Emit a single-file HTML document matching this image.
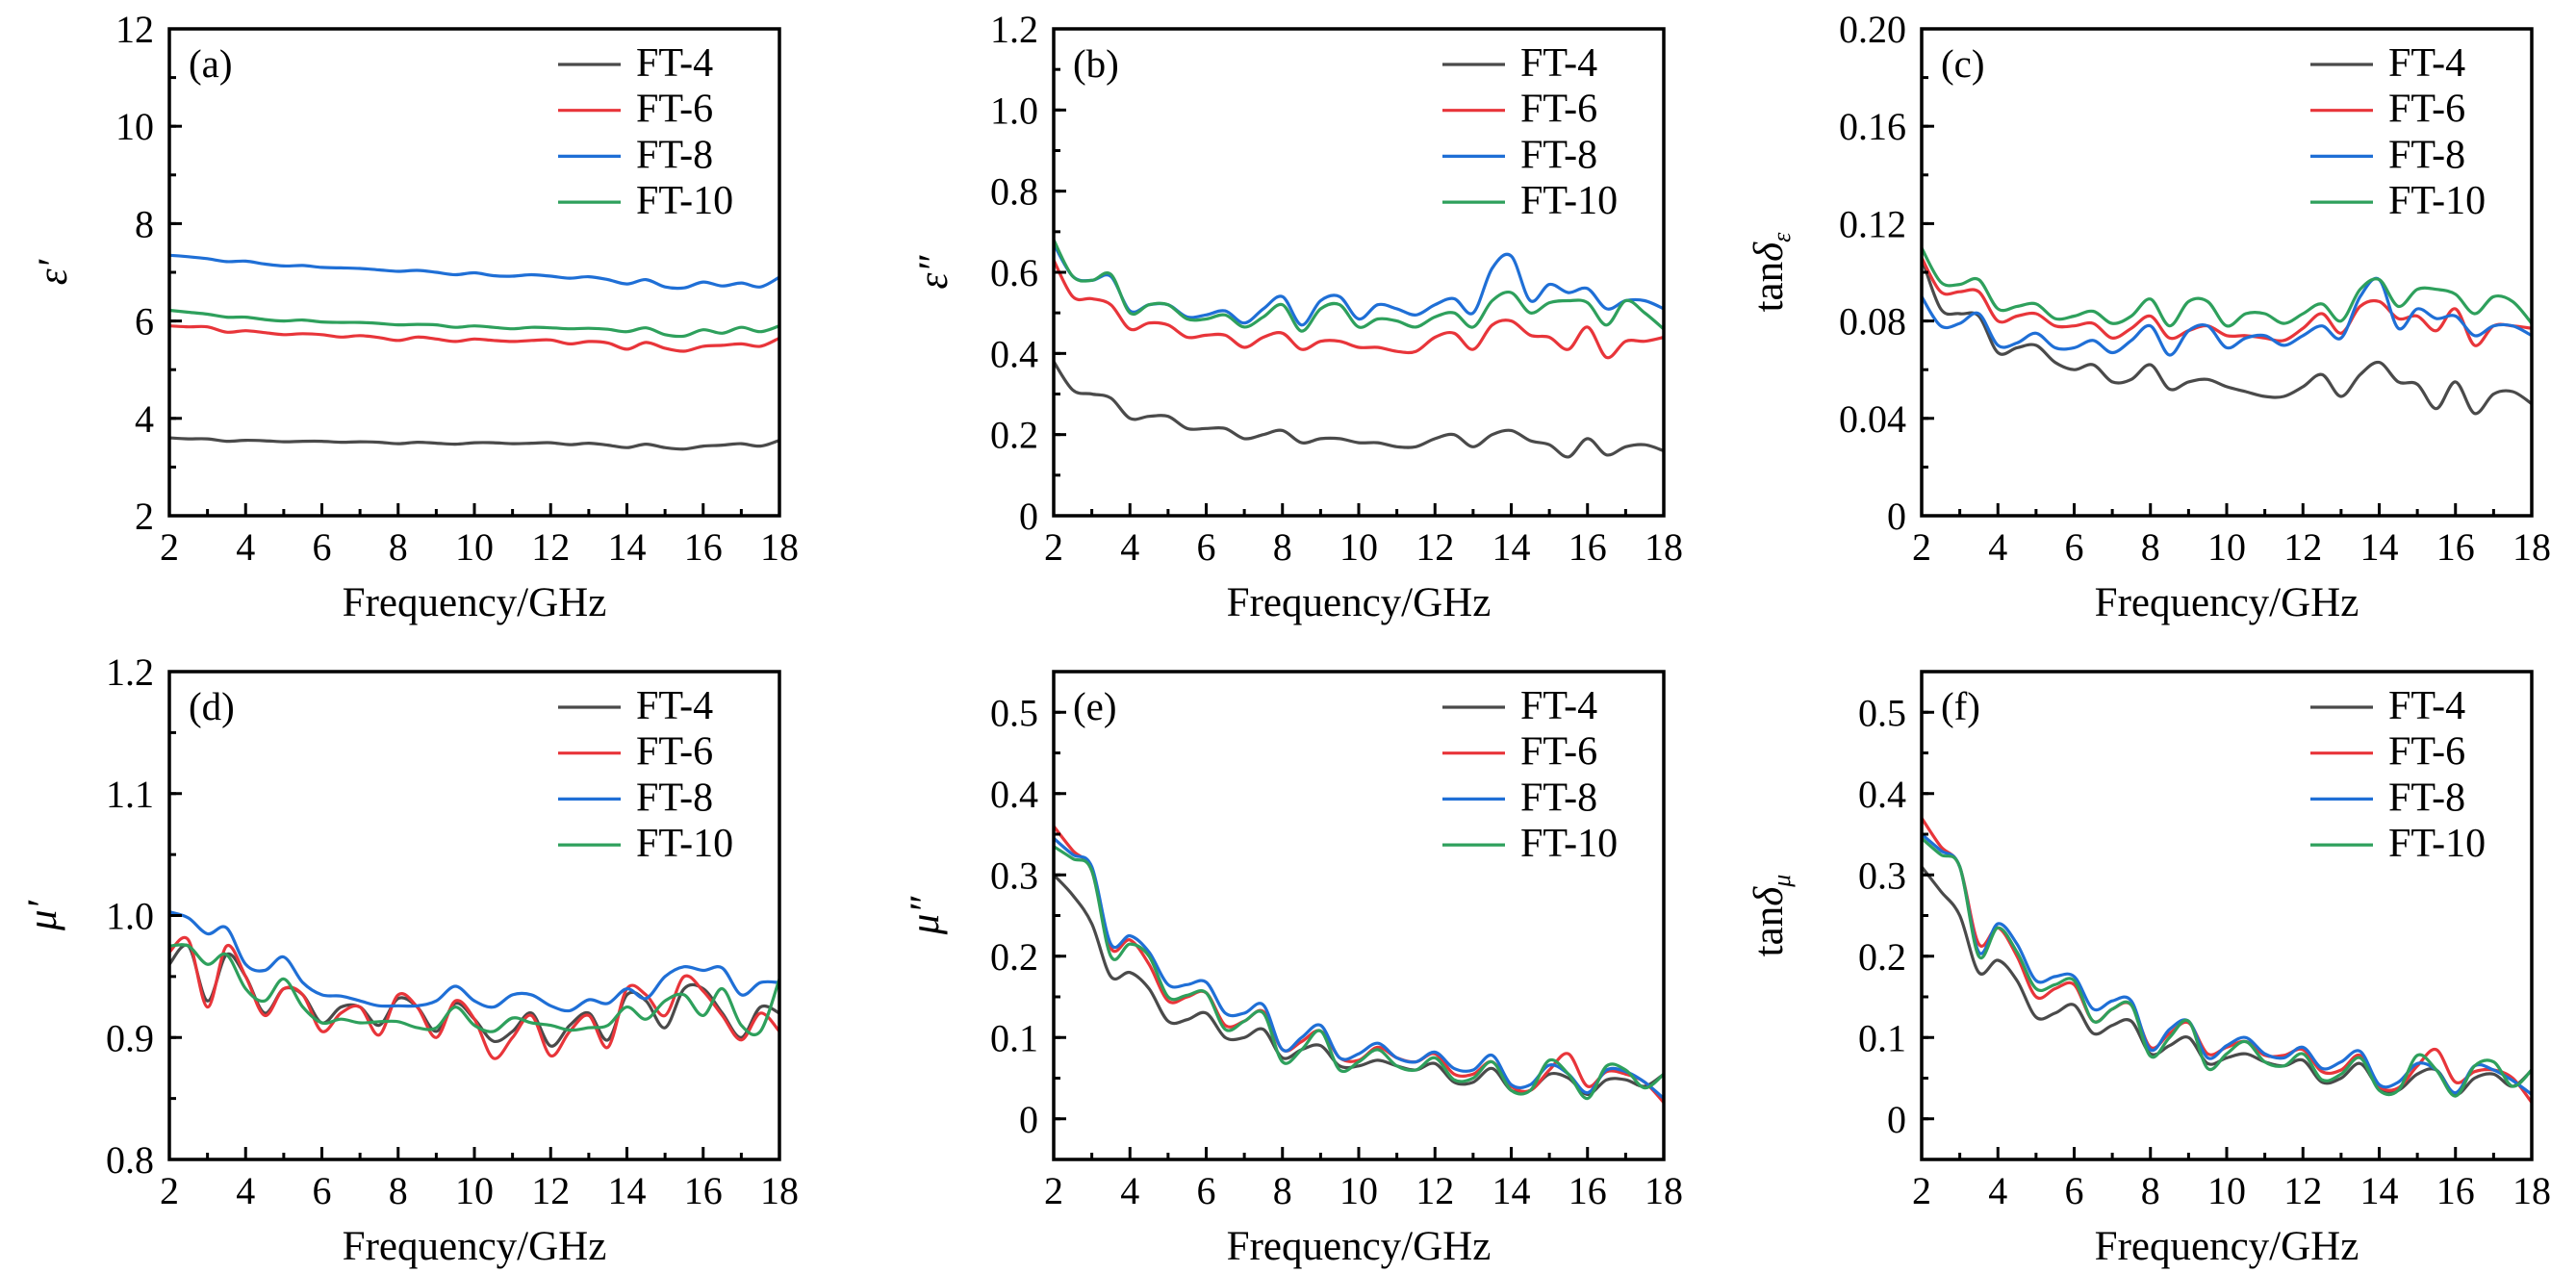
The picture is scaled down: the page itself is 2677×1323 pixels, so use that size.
<!DOCTYPE html>
<html><head><meta charset="utf-8">
<style>
html,body{margin:0;padding:0;background:#fff;}
svg{display:block;}
text{font-family:"Liberation Serif",serif;fill:#000;}
</style></head>
<body>
<svg id="fig" width="2677" height="1323" viewBox="0 0 2677 1323" xmlns="http://www.w3.org/2000/svg"></svg>
<script>
const freq = [2,2.5,3,3.5,4,4.5,5,5.5,6,6.5,7,7.5,8,8.5,9,9.5,10,10.5,11,11.5,12,12.5,13,13.5,14,14.5,15,15.5,16,16.5,17,17.5,18];
const seriesNames = ["FT-4","FT-6","FT-8","FT-10"];
const seriesColors = ["#4a4a4a","#e8353a","#1f6fd6","#2ea05c"];
const xTicks = [2,4,6,8,10,12,14,16,18];

// (a) epsilon'
const a_ft4 = [3.6,3.58,3.58,3.53,3.55,3.54,3.52,3.53,3.53,3.51,3.52,3.51,3.48,3.51,3.49,3.47,3.5,3.5,3.48,3.49,3.5,3.46,3.49,3.45,3.4,3.47,3.4,3.37,3.43,3.45,3.48,3.43,3.55];
const a_ft6 = [5.9,5.88,5.88,5.77,5.8,5.76,5.72,5.74,5.72,5.67,5.7,5.66,5.6,5.67,5.63,5.58,5.63,5.6,5.58,5.6,5.61,5.53,5.58,5.55,5.42,5.56,5.44,5.38,5.48,5.5,5.53,5.48,5.65];
const a_ft8 = [7.35,7.32,7.28,7.22,7.23,7.17,7.13,7.14,7.1,7.09,7.08,7.05,7.02,7.04,7.0,6.95,6.99,6.93,6.92,6.95,6.92,6.88,6.91,6.85,6.76,6.85,6.7,6.68,6.8,6.72,6.78,6.7,6.9];
const a_ft10 = [6.22,6.18,6.14,6.08,6.08,6.03,6.0,6.02,5.98,5.97,5.97,5.95,5.92,5.93,5.92,5.87,5.9,5.87,5.84,5.87,5.86,5.84,5.85,5.83,5.78,5.86,5.72,5.69,5.82,5.75,5.87,5.78,5.9];
// (b) epsilon''
const b_ft4 = [0.38,0.31,0.3,0.29,0.24,0.245,0.245,0.215,0.215,0.215,0.19,0.2,0.21,0.18,0.19,0.19,0.18,0.18,0.17,0.17,0.19,0.2,0.17,0.2,0.21,0.185,0.175,0.145,0.19,0.15,0.17,0.175,0.16];
const b_ft6 = [0.63,0.54,0.535,0.52,0.46,0.475,0.47,0.44,0.445,0.445,0.415,0.44,0.45,0.41,0.43,0.43,0.415,0.415,0.405,0.405,0.44,0.45,0.41,0.47,0.48,0.445,0.44,0.41,0.465,0.39,0.43,0.43,0.44];
const b_ft8 = [0.67,0.59,0.58,0.59,0.505,0.52,0.52,0.49,0.495,0.505,0.475,0.51,0.54,0.47,0.53,0.54,0.485,0.52,0.51,0.495,0.52,0.535,0.5,0.61,0.64,0.53,0.57,0.55,0.56,0.51,0.53,0.53,0.51];
const b_ft10 = [0.68,0.59,0.58,0.595,0.5,0.52,0.52,0.485,0.485,0.495,0.465,0.49,0.52,0.455,0.51,0.52,0.465,0.485,0.48,0.465,0.49,0.5,0.465,0.53,0.55,0.5,0.525,0.53,0.525,0.47,0.53,0.5,0.46];
// (c) tan delta_e
const c_ft4 = [0.106,0.085,0.083,0.082,0.067,0.069,0.07,0.063,0.06,0.062,0.055,0.056,0.062,0.052,0.055,0.056,0.053,0.051,0.049,0.049,0.053,0.058,0.049,0.058,0.063,0.055,0.054,0.044,0.055,0.042,0.05,0.051,0.046];
const c_ft6 = [0.106,0.092,0.092,0.092,0.08,0.082,0.083,0.078,0.078,0.079,0.073,0.077,0.082,0.073,0.076,0.078,0.074,0.074,0.073,0.072,0.077,0.083,0.075,0.086,0.088,0.081,0.082,0.076,0.085,0.07,0.078,0.078,0.077];
const c_ft8 = [0.09,0.078,0.079,0.083,0.07,0.071,0.075,0.069,0.069,0.072,0.067,0.072,0.078,0.066,0.076,0.078,0.069,0.073,0.074,0.07,0.074,0.078,0.073,0.09,0.097,0.077,0.085,0.081,0.082,0.074,0.078,0.078,0.074];
const c_ft10 = [0.11,0.096,0.095,0.097,0.085,0.086,0.087,0.081,0.082,0.084,0.079,0.082,0.089,0.078,0.088,0.088,0.078,0.083,0.083,0.079,0.083,0.087,0.08,0.093,0.097,0.086,0.093,0.093,0.091,0.083,0.09,0.088,0.079];
// (d) mu'
const d_ft4 = [0.96,0.975,0.93,0.968,0.95,0.92,0.94,0.935,0.912,0.925,0.925,0.91,0.932,0.925,0.905,0.928,0.915,0.897,0.905,0.92,0.893,0.91,0.92,0.898,0.935,0.93,0.908,0.94,0.94,0.92,0.9,0.925,0.92];
const d_ft6 = [0.97,0.98,0.925,0.975,0.95,0.918,0.94,0.935,0.905,0.92,0.925,0.902,0.935,0.925,0.9,0.93,0.915,0.883,0.9,0.918,0.885,0.905,0.918,0.892,0.94,0.935,0.918,0.95,0.938,0.918,0.898,0.92,0.905];
const d_ft8 = [1.003,0.998,0.985,0.99,0.96,0.955,0.966,0.945,0.935,0.934,0.93,0.926,0.926,0.926,0.93,0.942,0.93,0.925,0.935,0.935,0.926,0.922,0.931,0.928,0.94,0.932,0.95,0.958,0.955,0.957,0.935,0.945,0.945];
const d_ft10 = [0.975,0.975,0.96,0.968,0.94,0.93,0.948,0.925,0.912,0.915,0.912,0.913,0.913,0.908,0.908,0.925,0.91,0.905,0.916,0.912,0.91,0.906,0.908,0.91,0.925,0.915,0.93,0.935,0.918,0.94,0.91,0.905,0.948];
// (e) mu''
const e_ft4 = [0.3,0.275,0.24,0.175,0.18,0.16,0.12,0.122,0.13,0.1,0.1,0.11,0.075,0.085,0.09,0.065,0.065,0.072,0.065,0.06,0.068,0.045,0.045,0.062,0.035,0.035,0.055,0.05,0.03,0.048,0.048,0.04,0.055];
const e_ft6 = [0.36,0.33,0.305,0.21,0.22,0.19,0.145,0.15,0.155,0.115,0.12,0.132,0.085,0.095,0.108,0.075,0.072,0.088,0.075,0.07,0.08,0.055,0.055,0.07,0.04,0.035,0.06,0.08,0.04,0.058,0.055,0.045,0.02];
const e_ft8 = [0.345,0.325,0.31,0.215,0.225,0.205,0.165,0.165,0.168,0.13,0.13,0.14,0.085,0.1,0.115,0.075,0.08,0.093,0.075,0.07,0.082,0.062,0.06,0.078,0.042,0.042,0.066,0.055,0.032,0.06,0.058,0.045,0.025];
const e_ft10 = [0.335,0.32,0.305,0.2,0.215,0.2,0.15,0.152,0.155,0.11,0.12,0.13,0.07,0.085,0.108,0.06,0.07,0.085,0.065,0.06,0.075,0.048,0.05,0.07,0.035,0.035,0.072,0.055,0.025,0.065,0.06,0.038,0.055];
// (f) tan delta_mu
const f_ft4 = [0.31,0.28,0.25,0.18,0.195,0.17,0.125,0.13,0.14,0.105,0.115,0.12,0.08,0.09,0.1,0.068,0.075,0.08,0.07,0.065,0.072,0.045,0.05,0.068,0.038,0.035,0.055,0.06,0.03,0.05,0.055,0.04,0.06];
const f_ft6 = [0.37,0.335,0.31,0.215,0.235,0.2,0.15,0.16,0.165,0.12,0.135,0.14,0.088,0.105,0.118,0.08,0.088,0.095,0.078,0.078,0.085,0.058,0.06,0.078,0.04,0.038,0.065,0.085,0.045,0.058,0.06,0.05,0.02];
const f_ft8 = [0.35,0.33,0.31,0.205,0.24,0.215,0.17,0.175,0.175,0.135,0.145,0.145,0.085,0.11,0.12,0.075,0.09,0.1,0.08,0.075,0.088,0.062,0.07,0.083,0.042,0.045,0.068,0.06,0.032,0.065,0.06,0.047,0.03];
const f_ft10 = [0.345,0.325,0.31,0.2,0.235,0.205,0.16,0.165,0.17,0.12,0.135,0.14,0.077,0.1,0.12,0.062,0.08,0.095,0.07,0.065,0.08,0.048,0.055,0.075,0.035,0.035,0.078,0.06,0.028,0.065,0.07,0.04,0.06];

const NS = "http://www.w3.org/2000/svg";
const svg = document.getElementById("fig");
function mk(tag, attrs, parent){ const e=document.createElementNS(NS,tag); for(const k in attrs) e.setAttribute(k,attrs[k]); (parent||svg).appendChild(e); return e; }

const panels = [
 {id:"a", left:176, top:30, h:506, ymin:2, ymax:12, majors:[2,4,6,8,10,12], labels:["2","4","6","8","10","12"], minorStep:1, title:"ε′", titleX:-107, data:[a_ft4,a_ft6,a_ft8,a_ft10]},
 {id:"b", left:1095, top:30, h:506, ymin:0, ymax:1.2, majors:[0,0.2,0.4,0.6,0.8,1.0,1.2], labels:["0","0.2","0.4","0.6","0.8","1.0","1.2"], minorStep:0.1, title:"ε″", titleX:-111, data:[b_ft4,b_ft6,b_ft8,b_ft10]},
 {id:"c", left:1997, top:30, h:506, ymin:0, ymax:0.2, majors:[0,0.04,0.08,0.12,0.16,0.2], labels:["0","0.04","0.08","0.12","0.16","0.20"], minorStep:0.02, title:"tanδ", sub:"ε", titleX:-145, data:[c_ft4,c_ft6,c_ft8,c_ft10]},
 {id:"d", left:176, top:698, h:507, ymin:0.8, ymax:1.2, majors:[0.8,0.9,1.0,1.1,1.2], labels:["0.8","0.9","1.0","1.1","1.2"], minorStep:0.05, title:"μ′", titleX:-118, data:[d_ft4,d_ft6,d_ft8,d_ft10]},
 {id:"e", left:1095, top:698, h:507, ymin:-0.05, ymax:0.55, majors:[0,0.1,0.2,0.3,0.4,0.5], labels:["0","0.1","0.2","0.3","0.4","0.5"], minorStep:0.05, title:"μ″", titleX:-120, data:[e_ft4,e_ft6,e_ft8,e_ft10]},
 {id:"f", left:1997, top:698, h:507, ymin:-0.05, ymax:0.55, majors:[0,0.1,0.2,0.3,0.4,0.5], labels:["0","0.1","0.2","0.3","0.4","0.5"], minorStep:0.05, title:"tanδ", sub:"μ", titleX:-145, data:[f_ft4,f_ft6,f_ft8,f_ft10]}
];
const W = 634;

function catmull(pts){
  let d = "M"+pts[0][0].toFixed(1)+","+pts[0][1].toFixed(1);
  for(let i=0;i<pts.length-1;i++){
    const p0=pts[Math.max(0,i-1)], p1=pts[i], p2=pts[i+1], p3=pts[Math.min(pts.length-1,i+2)];
    const c1=[p1[0]+(p2[0]-p0[0])/6, p1[1]+(p2[1]-p0[1])/6];
    const c2=[p2[0]-(p3[0]-p1[0])/6, p2[1]-(p3[1]-p1[1])/6];
    d += " C"+c1[0].toFixed(1)+","+c1[1].toFixed(1)+" "+c2[0].toFixed(1)+","+c2[1].toFixed(1)+" "+p2[0].toFixed(1)+","+p2[1].toFixed(1);
  }
  return d;
}

panels.forEach(p=>{
  const g = mk("g",{});
  
  
  const xs = v => p.left + (v-2)/16*W;
  const ys = v => p.top + p.h - (v-p.ymin)/(p.ymax-p.ymin)*p.h;
  const bottom = p.top + p.h;
  p.data.forEach((arr,si)=>{
    const pts = arr.map((v,i)=>[xs(freq[i]), ys(v)]);
    const path = mk("path",{d:catmull(pts), fill:"none", stroke:seriesColors[si], "stroke-width":3.2, "stroke-linejoin":"round"}, g);
    
    
  });
  xTicks.forEach(t=>{
    const x = xs(t);
    mk("line",{x1:x,y1:bottom,x2:x,y2:bottom-13,stroke:"#000","stroke-width":3},g);
    const tl = mk("text",{x:x,y:bottom+46,"font-size":40,"text-anchor":"middle"},g);
    tl.textContent = String(t);
    
    
    if(t<18){ const xm = xs(t+1); mk("line",{x1:xm,y1:bottom,x2:xm,y2:bottom-7,stroke:"#000","stroke-width":3},g); }
  });
  const nMinor = Math.round((p.ymax-p.ymin)/p.minorStep);
  for(let i=0;i<=nMinor;i++){
    const v = p.ymin + i*p.minorStep; const y = ys(v);
    mk("line",{x1:p.left,y1:y,x2:p.left+7,y2:y,stroke:"#000","stroke-width":3},g);
  }
  p.majors.forEach((v,i)=>{
    const y = ys(v);
    mk("line",{x1:p.left,y1:y,x2:p.left+13,y2:y,stroke:"#000","stroke-width":3},g);
    const tl = mk("text",{x:p.left-16,y:y+14,"font-size":40,"text-anchor":"end"},g);
    tl.textContent = p.labels[i];
    
    
  });
  const fr = mk("rect",{x:p.left,y:p.top,width:W,height:p.h,fill:"none",stroke:"#000","stroke-width":3.5},g);
  
  
  const xt = mk("text",{x:p.left+W/2,y:bottom+104,"font-size":43,"text-anchor":"middle"},g);
  xt.textContent = "Frequency/GHz";
  
  
  const cy = p.top + p.h/2, cx = p.left + p.titleX;
  const yt = mk("text",{x:cx,y:cy,"font-size":43,"text-anchor":"middle",transform:"rotate(-90 "+cx+" "+cy+")"},g);
  
  
  if(p.sub){
    const t1 = mk("tspan",{},yt); t1.textContent = "tan";
    const t2 = mk("tspan",{"font-style":"italic"},yt); t2.textContent = "δ";
    const t3 = mk("tspan",{"font-style":"italic","font-size":26,dy:8},yt); t3.textContent = p.sub;
  } else {
    yt.setAttribute("font-style","italic");
    yt.textContent = p.title;
  }
  const pl = mk("text",{x:p.left+20,y:p.top+50,"font-size":41},g);
  pl.textContent = "("+p.id+")";
  
  
  seriesNames.forEach((n,si)=>{
    const ly = p.top + 49 + si*47.7;
    const lg = mk("g",{},g);
    
    
    mk("line",{x1:p.left+404,y1:ly-12,x2:p.left+469,y2:ly-12,stroke:seriesColors[si],"stroke-width":3.2},lg);
    const lt = mk("text",{x:p.left+485,y:ly,"font-size":42},lg);
    lt.textContent = n;
  });
});
</script>
</body></html>
